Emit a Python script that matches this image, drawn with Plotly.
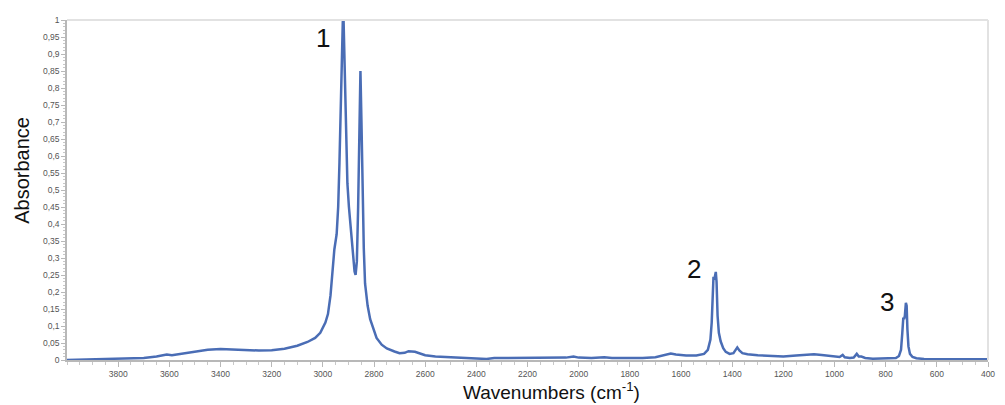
import plotly.graph_objects as go

# IR spectrum
wavenumbers = [
    4000, 3950, 3900, 3850, 3800, 3750, 3700, 3650, 3610, 3590, 3560, 3500, 3450, 3400,
    3350, 3300, 3250, 3200, 3150, 3100, 3060, 3030, 3010, 2990, 2980, 2970, 2962, 2955,
    2946, 2940, 2935, 2930, 2926, 2922, 2919, 2916, 2912, 2908, 2904, 2898, 2890, 2882,
    2876, 2872, 2867, 2862, 2857, 2853, 2849, 2845, 2840, 2835, 2825, 2815, 2800, 2790,
    2770, 2750, 2720, 2700, 2680, 2665, 2640, 2620, 2600, 2560, 2500, 2450, 2400, 2360,
    2330, 2300, 2250, 2200, 2100, 2050, 2020, 2000, 1950, 1900, 1870, 1800, 1750, 1700,
    1660, 1640, 1620, 1580, 1540, 1510, 1495, 1485, 1480, 1476, 1473, 1470, 1467, 1464,
    1461, 1457, 1452, 1445, 1435, 1425, 1410, 1395, 1380, 1372, 1360, 1340, 1300, 1250,
    1200, 1150, 1100, 1080, 1050, 1000, 980, 968, 960, 940, 925, 913, 905, 895, 880, 850,
    800, 760, 748, 740, 735, 731, 728, 725, 721, 718, 715, 711, 705, 695, 680, 650, 600,
    500, 400,
]
absorbance = [
    0.000, 0.001, 0.003, 0.003, 0.003, 0.004, 0.006, 0.010, 0.016, 0.014, 0.017, 0.024, 0.030, 0.032,
    0.030, 0.028, 0.028, 0.029, 0.033, 0.042, 0.053, 0.065, 0.080, 0.110, 0.135, 0.190, 0.270, 0.325,
    0.370, 0.450, 0.580, 0.780, 0.920, 0.995, 1.000, 0.920, 0.760, 0.640, 0.520, 0.450, 0.380, 0.310,
    0.260, 0.250, 0.290, 0.450, 0.700, 0.850, 0.700, 0.480, 0.330, 0.225, 0.160, 0.120, 0.085, 0.065,
    0.045, 0.034, 0.025, 0.020, 0.021, 0.026, 0.024, 0.018, 0.014, 0.010, 0.008, 0.006, 0.005, 0.003,
    0.006, 0.006, 0.005, 0.005, 0.006, 0.007, 0.010, 0.007, 0.006, 0.008, 0.006, 0.005, 0.006, 0.008,
    0.014, 0.019, 0.016, 0.013, 0.013, 0.018, 0.030, 0.060, 0.110, 0.200, 0.245, 0.236, 0.245, 0.259,
    0.230, 0.130, 0.080, 0.055, 0.035, 0.024, 0.018, 0.020, 0.037, 0.028, 0.020, 0.017, 0.014, 0.011,
    0.010, 0.013, 0.016, 0.017, 0.015, 0.010, 0.009, 0.015, 0.008, 0.006, 0.007, 0.018, 0.010, 0.010, 0.006, 0.004,
    0.004, 0.006, 0.012, 0.030, 0.080, 0.125, 0.120, 0.130, 0.168, 0.160, 0.090, 0.040, 0.018, 0.009, 0.005, 0.003, 0.002,
    0.002, 0.002,
]

x_tick_values = [3800, 3600, 3400, 3200, 3000, 2800, 2600, 2400, 2200, 2000, 1800, 1600, 1400, 1200, 1000, 800, 600, 400]

peak_labels = ["1", "2", "3"]
peak_label_x = [2999, 1549, 794]
peak_label_y = [0.948, 0.267, 0.171]

fig = go.Figure()
fig.add_trace(go.Scatter(
    x=wavenumbers, y=absorbance, mode="lines",
    line=dict(color="#4a6db5", width=2.5),
    hoverinfo="x+y", showlegend=False,
))

tick_font = dict(family="Liberation Sans, Arial, sans-serif", size=8.5, color="#555555")

# The page body has an 8px margin; size the figure so the plot area lands where the reference has it.
fig.update_layout(
    width=997, height=397,
    margin=dict(l=59, r=17, t=7, b=45),
    paper_bgcolor="white", plot_bgcolor="white",
    separators=", ",
    xaxis=dict(
        range=[4000, 400], tickmode="array", tickvals=x_tick_values,
        showgrid=False, zeroline=False,
        showline=True, linecolor="#b8b8b8", linewidth=1.5,
        ticks="outside", ticklen=5, tickcolor="#b8b8b8", tickwidth=1,
        tickfont=tick_font,
        minor=dict(dtick=50, ticks="outside", ticklen=3, tickcolor="#c8c8c8", showgrid=False),
    ),
    yaxis=dict(
        range=[0, 1], dtick=0.05, tick0=0,
        showgrid=False, zeroline=False,
        showline=True, linecolor="#b8b8b8", linewidth=1.5,
        ticks="outside", ticklen=4, tickcolor="#b8b8b8", tickwidth=1,
        tickfont=tick_font,
        minor=dict(dtick=0.01, ticks="outside", ticklen=2, tickcolor="#c8c8c8", showgrid=False),
    ),
    shapes=[
        dict(type="line", xref="paper", yref="paper", x0=0, x1=1, y0=1, y1=1,
             line=dict(color="#e2e2e2", width=2)),
        dict(type="line", xref="paper", yref="paper", x0=1, x1=1, y0=0, y1=1,
             line=dict(color="#e2e2e2", width=2)),
    ],
)

annotations = []
for t, ax_, ay_ in zip(peak_labels, peak_label_x, peak_label_y):
    annotations.append(dict(
        x=ax_, y=ay_, xref="x", yref="y", text=t, showarrow=False,
        font=dict(family="Liberation Sans, Arial, sans-serif", size=26, color="#111111"),
        xanchor="center", yanchor="middle",
    ))
annotations.append(dict(
    x=-0.049, y=0.559, xref="paper", yref="paper", text="Absorbance", showarrow=False,
    textangle=-90, font=dict(family="Liberation Sans, Arial, sans-serif", size=20, color="#111111"),
    xanchor="center", yanchor="middle",
))
annotations.append(dict(
    x=0.5266, y=-0.09, xref="paper", yref="paper", text="Wavenumbers (cm<sup>-1</sup>)",
    showarrow=False, font=dict(family="Liberation Sans, Arial, sans-serif", size=19, color="#111111"),
    xanchor="center", yanchor="middle",
))
fig.update_layout(annotations=annotations)

fig.write_html("out.html")
